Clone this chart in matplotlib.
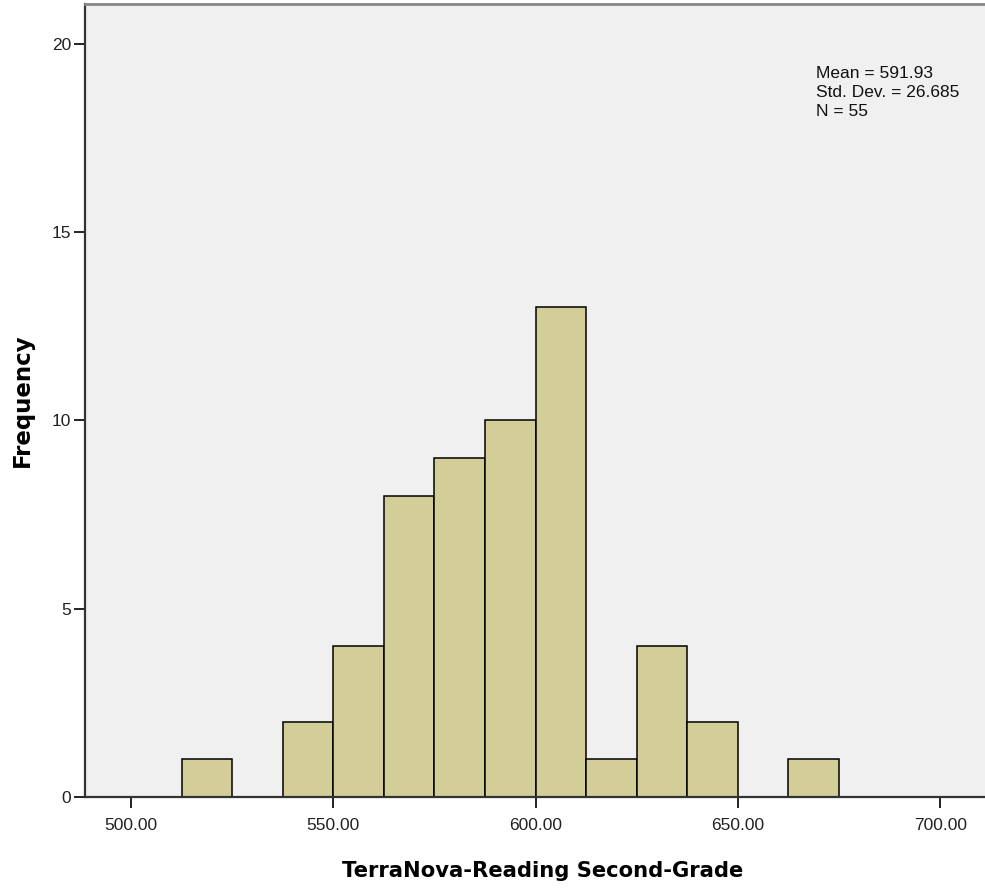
import matplotlib
matplotlib.use("Agg")
import matplotlib.pyplot as plt
import numpy as np

# Data ####################################################################
bin_edges = [512.5, 525.0, 537.5, 550.0, 562.5, 575.0, 587.5, 600.0,
             612.5, 625.0, 637.5, 650.0, 662.5, 675.0]
counts = [1, 0, 2, 4, 8, 9, 10, 13, 1, 4, 2, 0, 1]
x_ticks = [500, 550, 600, 650, 700]
y_ticks = [0, 5, 10, 15, 20]
stats_text = "Mean = 591.93\nStd. Dev. = 26.685\nN = 55"

plt.rcParams['font.family'] = ['Liberation Sans', 'DejaVu Sans']

# Figure ##################################################################
fig = plt.figure(figsize=(9.85, 8.9), dpi=100)
ax = fig.add_axes([85 / 985, 1 - 797 / 890, 915 / 985, 793 / 890])
ax.set_facecolor("#F0F0F0")

edges = np.array(bin_edges)
ax.bar(edges[:-1], counts, width=np.diff(edges), align="edge",
       color="#D3CE97", edgecolor="black", linewidth=1.1, zorder=2)

ax.set_xlim(488.6, 714.8)
ax.set_ylim(0, 21.05)
ax.set_xticks(x_ticks)
ax.set_xticklabels([f"{v:.2f}" for v in x_ticks])
ax.set_yticks(y_ticks)
ax.tick_params(axis="both", direction="out", length=8, width=1.4,
               labelsize=12.5, colors="#222222")
ax.tick_params(axis="x", pad=7)
ax.tick_params(axis="y", pad=2)

for side in ["left", "bottom"]:
    ax.spines[side].set_color("#333333")
    ax.spines[side].set_linewidth(1.6)
ax.spines["top"].set_color("#888888")
ax.spines["top"].set_linewidth(2)
ax.spines["right"].set_visible(False)

ax.set_xlabel("TerraNova-Reading Second-Grade", fontsize=15.2, fontweight="bold",
              family="DejaVu Sans", labelpad=20)
ax.set_ylabel("Frequency", fontsize=16.5, fontweight="bold",
              family="DejaVu Sans", labelpad=13)

# stats box placed in figure pixels (origin bottom-left)
ax.text(816, 890 - 66, stats_text, transform=None, fontsize=12.5, va="top",
        ha="left", linespacing=1.35, color="#111111")

fig.savefig("out.png", dpi=100)
